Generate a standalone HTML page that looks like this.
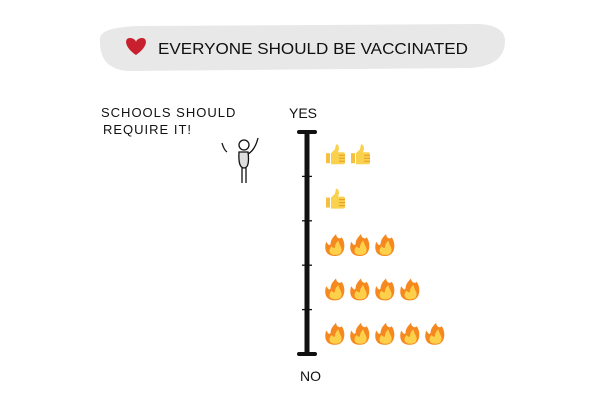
<!DOCTYPE html>
<html><head><meta charset="utf-8"><style>
html,body{margin:0;padding:0;background:#fff;width:600px;height:403px;overflow:hidden}
text{font-family:"Liberation Sans",sans-serif;fill:#111}
</style></head><body>
<svg width="600" height="403" viewBox="0 0 600 403">
<path d="M100,40 Q98,27 140,26 L480,24 Q506,26 505,42 Q504,66 470,68 L130,71 Q99,70 100,40 Z" fill="#e7e8e7"/>
<path d="M136,55 C124,47 124,38 130,38 C134,38 136,41 136,42 C136,41 138,38 142,38 C148,38 148,47 136,55 Z" fill="#c8202f"/>
<text x="158" y="54" font-size="16" textLength="310" lengthAdjust="spacingAndGlyphs">EVERYONE SHOULD BE VACCINATED</text>
<text x="101" y="117" font-size="13" letter-spacing="1">SCHOOLS SHOULD</text>
<text x="103" y="134" font-size="13" letter-spacing="1">REQUIRE  IT!</text>
<g stroke="#111" stroke-width="1.3" fill="none">
<circle cx="244" cy="145" r="5" fill="#fff"/>
<path d="M239,152 Q238,168 244,168 Q250,168 248,152 Z" fill="#ddd"/>
<path d="M242,168 V183 M246,168 V183 M248,154 Q255,150 258,138 M222,143 Q224,150 227,152"/>
</g>
<text x="289" y="118" font-size="14">YES</text>
<text x="300" y="381" font-size="14">NO</text>
<g id="axis"></g>
<g id="marks"></g>
</svg>
<script>
const categories=["strongly-yes","yes","neutral","no","strongly-no"];
const counts=[2,1,3,4,5];
const iconTypes=["thumb","thumb","fire","fire","fire"];
const NS="http://www.w3.org/2000/svg";
const axTop=132,axBottom=354,axisX=307;
const yScale=i=>axTop+(axBottom-axTop)*(i+0.5)/categories.length;
const xScale=j=>335+j*25;
const ax=document.getElementById('axis');
function mk(t,a,p){const e=document.createElementNS(NS,t);for(const k in a)e.setAttribute(k,a[k]);p.appendChild(e);return e;}
const line=mk('line',{x1:axisX,x2:axisX,y1:axTop,y2:axBottom,stroke:'#111','stroke-width':5},ax);


[axTop,axBottom].forEach(y=>{const c=mk('line',{x1:axisX-8,x2:axisX+8,y1:y,y2:y,stroke:'#111','stroke-width':4,'stroke-linecap':'round'},ax);

});
for(let i=1;i<categories.length;i++){const y=axTop+(axBottom-axTop)*i/categories.length;
const t=mk('line',{x1:axisX-5,x2:axisX+5,y1:y,y2:y,stroke:'#111','stroke-width':1.3},ax);

}
const mg=document.getElementById('marks');
categories.forEach((c,i)=>{const y=yScale(i);
for(let j=0;j<counts[i];j++){const x=xScale(j);
const isFire=iconTypes[i]==='fire';
const g=mk('g',{transform:`translate(${x},${y+(isFire?2:0)}) scale(${isFire?1.1:1})`},mg);


if(isFire){
mk('path',{d:'M0,10 C-9,10 -10,3 -8,-3 C-6,0 -5,1 -4,-1 C-4,-5 -1,-8 1,-10 C1,-6 5,-5 6,-7 C10,-2 10,10 0,10 Z',fill:'#f5881f'},g);
mk('path',{d:'M0,9 C-6,9 -6,4 -3,1 C-2,3 0,3 0,2 C0,-1 2,-3 3,-4 C4,0 6,2 6,4 C6,8 4,9 0,9 Z',fill:'#fcd04a'},g);
}else{
mk('path',{d:'M-9,-1 H-5 V9 H-9 Z',fill:'#f5c040'},g);
mk('path',{d:'M-4,-1 L0,-5 L1,-10 Q4,-10 4,-5 L3,-2 H8 Q10,-2 10,0 V8 Q10,10 8,10 H-4 Z',fill:'#f9d14d'},g);
mk('path',{d:'M4,1 H10 M4,4 H10 M4,7 H10',stroke:'#e59a28','stroke-width':1},g);
}}});
</script>
</body></html>
